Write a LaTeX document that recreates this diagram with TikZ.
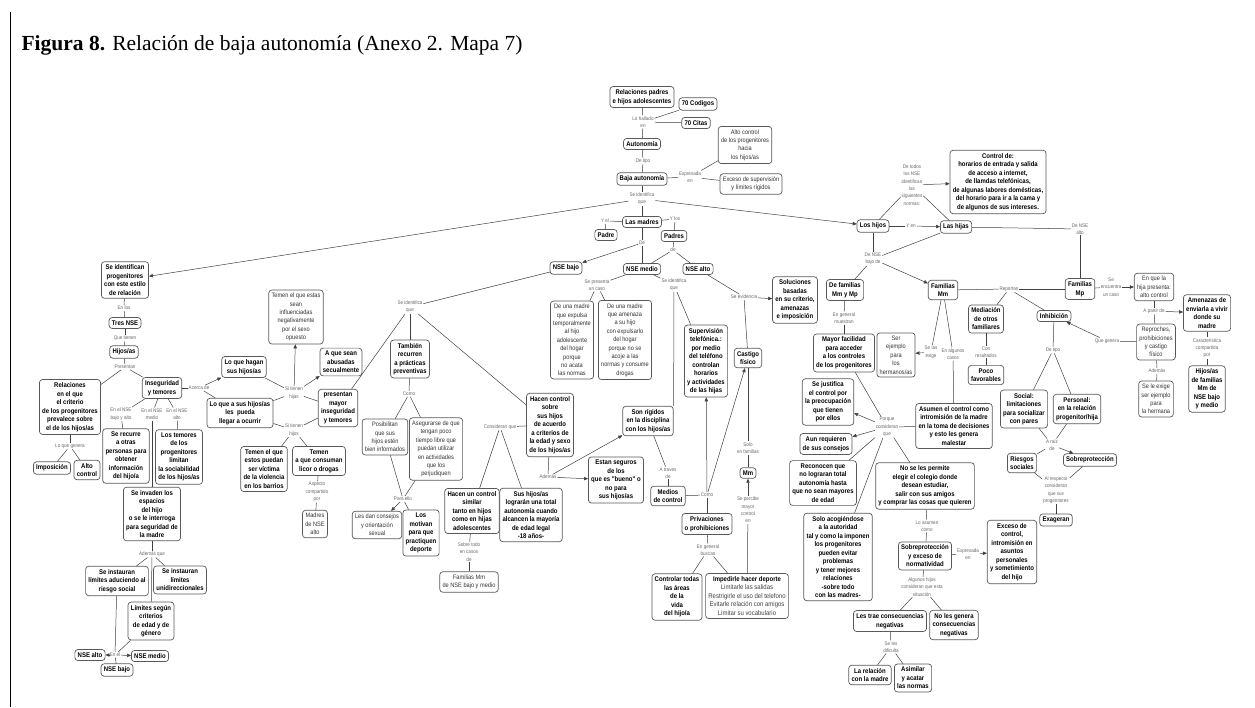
\documentclass[tikz,border=0pt]{standalone}
\usepackage{fontspec}
\usetikzlibrary{arrows.meta}
\newfontfamily\mapfont{Liberation Sans}[FakeStretch=0.88]
\newfontfamily\titlefont{Liberation Serif}
\newcommand\cbfont{\mapfont\bfseries\fontsize{6.8}{8.5}\selectfont}
\newcommand\crfont{\mapfont\fontsize{6.4}{8.4}\selectfont}
\newcommand\lbfont{\mapfont\fontsize{5.2}{7.3}\selectfont}
\tikzset{
  base/.style={draw=black!65, line width=0.7pt, rounded corners=3pt, align=center, fill=white, inner xsep=2.8pt, inner ysep=3pt},
  cb/.style={base, font=\cbfont},
  cr/.style={base, font=\crfont, text=black!80},
  lb/.style={font=\lbfont, text=black!60, align=center, inner sep=0.8pt},
  ln/.style={draw=black!75, line width=0.5pt},
  ar/.style={ln, -{Triangle[length=4pt,width=3.4pt]}}
}
\begin{document}
\begin{tikzpicture}[x=1pt,y=-1pt]
\useasboundingbox (0,0) rectangle (1255,707);
\draw[line width=0.8pt] (10,12) -- (10,707);
\node[anchor=west, font=\titlefont\fontsize{21.5}{24}\selectfont] (title) at (18,45) {\textbf{Figura 8.} Relación de baja autonomía (Anexo 2. Mapa 7)};

% ---- top centre
\node[cb] (rel) at (642,97) {Relaciones padres\\e hijos adolescentes};
\node[cb] (cod) at (698,104) {70 Codigos};
\node[cb] (cit) at (696,123) {70 Citas};
\node[lb] (lhall) at (643,122) {Lo hallado\\en};
\node[cb] (auto) at (642,144) {Autonomía};
\node[lb] (ltipo) at (643,161) {De tipo};
\node[cb] (baja) at (642,179) {Baja autonomía};
\node[lb] (lexpr) at (690,177) {Expresada\\en};
\node[cr] (altoc) at (745,145) {Alto control\\de los progenitores\\hacia\\los hijos/as};
\node[cr] (exc) at (751,184) {Exceso de supervisión\\y límites rígidos};
\node[lb] (lseid) at (642,199) {Se identifica\\que};
\node[cb] (madres) at (642,222) {Las madres};
\node[lb] (lyel) at (605,221) {Y el};
\node[cb] (padre) at (606,235) {Padre};
\node[lb] (lylos) at (675,219) {Y los};
\node[cb] (padres) at (674,236) {Padres};
\node[lb] (lDe) at (642,243) {De};
\node[lb] (lde) at (673,250) {de};
\node[cb] (nbajo) at (566,268) {NSE bajo};
\node[cb] (nmedio) at (642,269) {NSE medio};
\node[cb] (nalto) at (698,269) {NSE alto};
\node[lb] (lpres) at (597,285) {Se presenta\\un caso};
\node[lb] (lseid2) at (674,285) {Se identifica\\que};
\node[lb] (levid) at (744,297) {Se evidencia};
\node[cb] (sol) at (795,300) {Soluciones\\basadas\\en su criterio,\\amenazas\\e imposición};
\node[cr] (madre1) at (572,340) {De una madre\\que expulsa\\temporalmente\\al hijo\\adolescente\\del hogar\\porque\\no acata\\las normas};
\node[cr] (madre2) at (625,340) {De una madre\\que amenaza\\a su hijo\\con expulsarlo\\del hogar\\porque no se\\acoje a las\\normas y consume\\drogas};

% ---- right: hijos / hijas
\node[cb] (hijos) at (873,226) {Los hijos};
\node[lb] (lyen) at (911,226) {Y en};
\node[lb] (ltodos) at (912,185) {De todos\\los NSE\\identifican\\las\\siguientes\\normas:};
\node[cb] (ctrl) at (998,182) {Control de:\\horarios de entrada y salida\\de acceso a internet,\\de llamdas telefónicas,\\de algunas labores domésticas,\\del horario para ir a la cama y\\de algunos de sus intereses.};
\node[cb] (hijas) at (956,227) {Las hijas};
\node[lb] (lnsealto) at (1080,229) {De NSE\\alto};
\node[lb] (lbajode) at (873,259) {De NSE\\bajo de};
\node[cb] (fmmmp) at (845,290) {De familias\\Mm y Mp};
\node[cb] (fmm) at (943,290) {Familias\\Mm};
\node[cb] (fmp) at (1080,289) {Familias\\Mp};
\node[lb] (lrep) at (1009,289) {Reportan};
\node[lb] (lenc) at (1111,287) {Se\\encuentra\\un caso};
\node[cr] (hpres) at (1154,287) {En que la\\hija presenta:\\alto control};
\node[lb] (lapartir) at (1154,311) {A partir de};
\node[cb] (amen) at (1207,313) {Amenazas de\\enviarla a vivir\\donde su\\madre};
\node[cb] (medi) at (986,319) {Mediación\\de otros\\familiares};
\node[cb] (inhib) at (1054,316) {Inhibición};
\node[lb] (lconres) at (986,352) {Con\\resultados};
\node[cb] (poco) at (986,375) {Poco\\favorables};
\node[lb] (ldetipo) at (1053,350) {De tipo};
\node[lb] (lqgen) at (1107,341) {Que genera};
\node[cr] (repro) at (1156,342) {Reproches,\\prohibiciones\\y castigo\\físico};
\node[lb] (lademas3) at (1157,371) {Además};
\node[cr] (exige) at (1156,399) {Se le exige\\ser ejemplo\\para\\la hermana};
\node[lb] (lcaract) at (1207,348) {Característica\\compartida\\por};
\node[cb] (hmm) at (1207,389) {Hijos/as\\de familias\\Mm de\\NSE bajo\\y medio};
\node[cb] (social) at (1024,409) {Social:\\limitaciones\\para socializar\\con pares};
\node[cb] (personal) at (1077,409) {Personal:\\en la relación\\progenitor/hija};
\node[lb] (lraiz) at (1052,445) {A raíz\\de};
\node[cb] (riesgos) at (1022,463) {Riesgos\\sociales};
\node[cb] (sobrep) at (1090,460) {Sobreprotección};
\node[lb] (lalresp) at (1056,490) {Al respecto\\consideran\\que sus\\progenitores};
\node[cb] (exag) at (1056,520) {Exageran};
\node[cb] (excctrl) at (1012,552) {Exceso de\\control,\\intromisión en\\asuntos\\personales\\y sometimiento\\del hijo};
\node[cb] (asumen) at (954,426) {Asumen el control como\\intromisión de la madre\\en la toma de decisiones\\y esto les genera\\malestar};
\node[lb] (lalgunos) at (953,354) {En algunos\\casos};
\node[lb] (lselas) at (931,352) {Se las\\exige};
\node[cb] (noperm) at (925,486) {No se les permite\\elegir el colegio donde\\desean estudiar,\\salir con sus amigos\\y comprar las cosas que quieren};
\node[lb] (lloasumen) at (927,526) {Lo asumen\\como};
\node[cb] (sobrenorm) at (925,556) {Sobreprotección\\y exceso de\\normatividad};
\node[lb] (lexpr2) at (968,554) {Expresada\\en};
\node[lb] (lalgh) at (922,587) {Algunos hijos\\consideran que esta\\situación};
\node[cb] (lestrae) at (890,621) {Les trae consecuencias\\negativas};
\node[cb] (nogen) at (954,625) {No les genera\\consecuencias\\negativas};
\node[lb] (ldific) at (891,647) {Se les\\dificulta};
\node[cb] (relmadre) at (870,675) {La relación\\con la madre};
\node[cb] (asim) at (913,678) {Asimilar\\y acatar\\las normas};

% ---- centre lower
\node[cb] (superv) at (706,361) {Supervisión\\telefónica.:\\por medio\\del teléfono\\controlan\\horarios\\y actividades\\de las hijas};
\node[cb] (castigo) at (748,358) {Castigo\\físico};
\node[cb] (rigidos) at (648,421) {Son rígidos\\en la disciplina\\con los hijos/as};
\node[lb] (ltraves) at (668,473) {A traves\\de};
\node[cb] (medios) at (668,496) {Medios\\de control};
\node[lb] (lcomo2) at (707,495) {Como};
\node[lb] (lsolo) at (748,448) {Solo\\en familias};
\node[cb] (mm) at (748,473) {Mm};
\node[lb] (lpercibe) at (748,510) {Se percibe\\mayor\\control\\en};
\node[cb] (priv) at (707,524) {Privaciones\\o prohibiciones};
\node[lb] (lbuscan) at (708,550) {En general\\buscan};
\node[cb] (controlar) at (677,597) {Controlar todas\\las áreas\\de la\\vida\\del hijo/a};
\node[cb] (impedir) at (747,596) {Impedirle hacer deporte\\{\mdseries\color{black!75}Limitarle las salidas}\\{\mdseries\color{black!75}Restrigirle el uso del telefono}\\{\mdseries\color{black!75}Evitarle relación con amigos}\\{\mdseries\color{black!75}Limitar su vocabulario}};
\node[lb] (lmuestran) at (844,318) {En general\\muestran};
\node[cb] (mayorf) at (844,353) {Mayor facilidad\\para acceder\\a los controles\\de los progenitores};
\node[cr] (serej) at (896,355) {Ser\\ejemplo\\para\\los\\hermanos/as};
\node[cb] (justif) at (828,402) {Se justifica\\el control por\\la preocupación\\que tienen\\por ellos};
\node[lb] (lporque) at (887,427) {Porque\\consideran\\que};
\node[cb] (aun) at (826,444) {Aun requieren\\de sus consejos};
\node[cb] (recon) at (823,483) {Reconocen que\\no lograran total\\autonomía hasta\\que no sean mayores\\de edad};
\node[cb] (soloacog) at (838,557) {Solo acogiéndose\\a la autoridad\\tal y como la imponen\\los progenitores\\pueden evitar\\problemas\\y tener mejores\\relaciones\\-sobre todo\\con las madres-};

% ---- NSE bajo branch
\node[lb] (lseid3) at (410,307) {Se identifica\\que};
\node[cb] (abus) at (341,362) {A que sean\\abusadas\\secualmente};
\node[cb] (tamb) at (410,359) {También\\recurren\\a prácticas\\preventivas};
\node[cb] (presmay) at (338,408) {presentan\\mayor\\inseguridad\\y temores};
\node[lb] (lcomo1) at (409,394) {Como};
\node[cr] (posib) at (385,437) {Posibilitan\\que sus\\hijos estén\\bien informados};
\node[cr] (aseg) at (436,449) {Asegurarse de que\\tengan poco\\tiempo libre que\\puedan utilizar\\en actividades\\que los\\perjudiquen};
\node[lb] (lparaello) at (403,499) {Para ello};
\node[cr] (consejos) at (377,525) {Les dan consejos\\y orientación\\sexual};
\node[cb] (motivan) at (421,533) {Los\\motivan\\para que\\practiquen\\deporte};
\node[cb] (hacencs) at (550,425) {Hacen control\\sobre\\sus hijos\\de acuerdo\\a criterios de\\la edad y sexo\\de los hijos/as};
\node[lb] (lconsid) at (500,427) {Consideran que};
\node[cb] (similar) at (472,511) {Hacen un control\\similar\\tanto en hijos\\como en hijas\\adolescentes};
\node[cb] (lograran) at (531,515) {Sus hijos/as\\lograrán una total\\autonomía cuando\\alcancen la mayoría\\de edad legal\\-18 años-};
\node[lb] (lsobretodo) at (469,552) {Sobre todo\\en casos\\de};
\node[cr] (fammm) at (469,582) {Familias Mm\\de NSE bajo y medio};
\node[lb] (lademas2) at (548,477) {Además};
\node[cb] (seguros) at (616,480) {Estan seguros\\de los\\que es "bueno" o\\no para\\sus hijos/as};

% ---- left branch
\node[cb] (progen) at (125,280) {Se identifican\\progenitores\\con este estilo\\de relación};
\node[lb] (lenlos) at (124,308) {En los};
\node[cb] (tres) at (125,323) {Tres NSE};
\node[lb] (lqtienen) at (125,338) {Que tienen};
\node[cb] (hijosas) at (124,352) {Hijos/as};
\node[lb] (lpresentan) at (125,367) {Presentan};
\node[cb] (relac) at (70,407) {Relaciones\\en el que\\el criterio\\de los progenitores\\prevalece sobre\\el de los hijos/as};
\node[cb] (inseg) at (162,388) {Inseguridad\\y temores};
\node[lb] (lacerca) at (199,388) {Acerca de};
\node[cb] (hagan) at (244,367) {Lo que hagan\\sus hijos/as};
\node[cb] (ocurrir) at (240,413) {Lo que a sus hijos/as\\les~ pueda\\llegar a ocurrir};
\node[lb] (lsihijas) at (294,393) {Si tienen\\hijas};
\node[lb] (lsihijos) at (294,430) {Si tienen\\hijos};
\node[cr] (influ) at (296,317) {Temen el que estas\\sean\\influenciadas\\negativamente\\por el sexo\\opuesto};
\node[cb] (violencia) at (264,469) {Temen el que\\estos puedan\\ser víctima\\de la violencia\\en los barrios};
\node[cb] (licor) at (319,461) {Temen\\a que consuman\\licor o drogas};
\node[lb] (laspecto) at (317,492) {Aspecto\\compartido\\por};
\node[cr] (madresalto) at (315,524) {Madres\\de NSE\\alto};
\node[cb] (impos) at (52,468) {Imposición};
\node[cb] (altoc2) at (87,470) {Alto\\control};
\node[lb] (llogenera) at (70,446) {Lo que genera};
\node[lb] (lbajoalto) at (121,414) {En el NSE\\bajo y alto};
\node[lb] (lmedio) at (152,414) {En el NSE\\medio};
\node[lb] (lalto) at (177,414) {En el NSE\\alto};
\node[cb] (recurre) at (126,456) {Se recurre\\a otras\\personas para\\obtener\\información\\del hijo/a};
\node[cb] (temores) at (179,457) {Los temores\\de los\\progenitores\\limitan\\la sociabilidad\\de los hijos/as};
\node[cb] (invaden) at (152,514) {Se invaden los\\espacios\\del hijo\\o se le interroga\\para seguridad de\\la madre};
\node[lb] (lademasque) at (152,554) {Además que};
\node[cb] (aduc) at (117,581) {Se instauran\\límites aduciendo al\\riesgo social};
\node[cb] (unidir) at (180,580) {Se instauran\\límites\\unidireccionales};
\node[cb] (segun) at (151,621) {Límites según\\criterios\\de edad y de\\género};
\node[cb] (ealto) at (90,655) {NSE alto};
\node[lb] (lenel) at (115,655) {En el};
\node[cb] (emedio) at (150,656) {NSE medio};
\node[cb] (ebajo) at (117,670) {NSE bajo};

% ---- connectors
\draw[ln] (rel) -- (lhall); \draw[ln] (lhall) -- (auto); \draw[ln] (lhall) -- (cod); \draw[ln] (lhall) -- (cit);
\draw[ln] (auto) -- (ltipo); \draw[ln] (ltipo) -- (baja);
\draw[ln] (baja) -- (lexpr); \draw[ln] (lexpr) -- (altoc); \draw[ln] (lexpr) -- (exc);
\draw[ln] (baja) -- (lseid); \draw[ln] (lseid) -- (madres);
\draw[ar] (lseid) -- (progen); \draw[ar] (lseid) -- (hijos);
\draw[ln] (madres) -- (lyel); \draw[ln] (lyel) -- (padre);
\draw[ln] (madres) -- (lylos); \draw[ln] (lylos) -- (padres);
\draw[ln] (madres) -- (lDe); \draw[ar] (lDe) -- (nbajo); \draw[ln] (lDe) -- (nmedio);
\draw[ln] (padres) -- (lde); \draw[ln] (lde) -- (nmedio); \draw[ln] (lde) -- (nalto);
\draw[ln] (nmedio) -- (lpres); \draw[ln] (lpres) -- (madre1); \draw[ln] (lpres) -- (madre2);
\draw[ln] (nmedio) -- (lseid2); \draw[ln] (lseid2) -- (rigidos.north east); \draw[ln] (lseid2) -- (superv);
\draw[ln] (nalto) -- (levid); \draw[ar] (levid) -- (sol); \draw[ln] (levid) -- (castigo);
\draw[ln] (nbajo) -- (lseid3); \draw[ln] (lseid3) -- (presmay); \draw[ln] (lseid3) -- (tamb); \draw[ln] (lseid3) -- (hacencs);
\draw[ln] (hijos) -- (ltodos); \draw[ln] (hijas) -- (ltodos); \draw[ar] (ltodos) -- (ctrl);
\draw[ln] (hijos) -- (lyen); \draw[ar] (lyen) -- (hijas);
\draw[ln] (hijos) -- (lbajode); \draw[ln] (hijas) -- (lbajode); \draw[ln] (lbajode) -- (fmmmp); \draw[ar] (lbajode) -- (fmm);
\draw[ln] (hijas) -- (lnsealto); \draw[ln] (lnsealto) -- (fmp);
\draw[ln] (fmm) -- (lrep); \draw[ln] (lrep) -- (fmp); \draw[ln] (lrep) -- (medi); \draw[ln] (lrep) -- (inhib);
\draw[ln] (medi) -- (lconres); \draw[ln] (lconres) -- (poco);
\draw[ln] (inhib) -- (ldetipo); \draw[ln] (ldetipo) -- (social); \draw[ln] (ldetipo) -- (personal);
\draw[ln] (social) -- (lraiz); \draw[ln] (personal) -- (lraiz); \draw[ln] (lraiz) -- (riesgos); \draw[ar] (lraiz) -- (sobrep);
\draw[ln] (riesgos) -- (lalresp); \draw[ln] (sobrep) -- (lalresp); \draw[ln] (lalresp) -- (exag);
\draw[ln] (fmp) -- (lenc); \draw[ar] (lenc) -- (hpres);
\draw[ln] (hpres) -- (lapartir); \draw[ar] (lapartir) -- (amen); \draw[ln] (lapartir) -- (repro);
\draw[ln] (repro) -- (lqgen); \draw[ar] (lqgen) -- (inhib);
\draw[ln] (repro) -- (lademas3); \draw[ln] (lademas3) -- (exige);
\draw[ln] (amen) -- (lcaract); \draw[ln] (lcaract) -- (hmm);
\draw[ln] (fmm) -- (lselas); \draw[ar] (lselas) -- (serej);
\draw[ln] (fmm) -- (lalgunos); \draw[ln] (lalgunos) -- (asumen);
\draw[ln] (fmmmp) -- (lmuestran); \draw[ln] (lmuestran) -- (mayorf);
\draw[ln] (mayorf) -- (lporque); \draw[ar] (lporque) -- (justif); \draw[ar] (lporque) -- (aun);
\draw[ln] (lporque) -- (recon); \draw[ln] (lporque) -- (soloacog); \draw[ln] (lporque) -- (noperm); \draw[ln] (lporque) -- (asumen);
\draw[ln] (noperm) -- (lloasumen); \draw[ln] (lloasumen) -- (sobrenorm);
\draw[ln] (sobrenorm) -- (lexpr2); \draw[ar] (lexpr2) -- (excctrl);
\draw[ln] (sobrenorm) -- (lalgh); \draw[ln] (lalgh) -- (lestrae); \draw[ln] (lalgh) -- (nogen);
\draw[ln] (lestrae) -- (ldific); \draw[ln] (ldific) -- (relmadre); \draw[ln] (ldific) -- (asim);
\draw[ln] (rigidos) -- (ltraves); \draw[ln] (ltraves) -- (medios);
\draw[ln] (medios) -- (lcomo2); \draw[ar] (lcomo2) -- (superv); \draw[ar] (lcomo2) -- (castigo); \draw[ln] (lcomo2) -- (priv);
\draw[ln] (castigo) -- (lsolo); \draw[ln] (lsolo) -- (mm);
\draw[ln] (impedir) -- (lpercibe); \draw[ar] (lpercibe) -- (mm);
\draw[ln] (priv) -- (lbuscan); \draw[ln] (lbuscan) -- (controlar); \draw[ln] (lbuscan) -- (impedir);
\draw[ln] (tamb) -- (lcomo1); \draw[ln] (lcomo1) -- (posib); \draw[ln] (lcomo1) -- (aseg);
\draw[ln] (posib) -- (lparaello); \draw[ln] (aseg) -- (lparaello); \draw[ar] (lparaello) -- (consejos); \draw[ln] (lparaello) -- (motivan);
\draw[ln] (hacencs) -- (lconsid); \draw[ln] (lconsid) -- (similar); \draw[ln] (lconsid) -- (lograran);
\draw[ln] (hacencs) -- (lademas2); \draw[ar] (lademas2) -- (rigidos); \draw[ar] (lademas2) -- (seguros);
\draw[ln] (similar) -- (lsobretodo); \draw[ln] (lsobretodo) -- (fammm);
\draw[ln] (progen) -- (lenlos); \draw[ln] (lenlos) -- (tres); \draw[ln] (tres) -- (lqtienen); \draw[ln] (lqtienen) -- (hijosas);
\draw[ln] (hijosas) -- (lpresentan); \draw[ln] (lpresentan) -- (relac); \draw[ln] (lpresentan) -- (inseg);
\draw[ln] (relac) -- (llogenera); \draw[ln] (llogenera) -- (impos); \draw[ln] (llogenera) -- (altoc2);
\draw[ln] (inseg) -- (lacerca); \draw[ar] (lacerca) -- (hagan); \draw[ln] (lacerca) -- (ocurrir);
\draw[ln] (inseg) -- (lbajoalto); \draw[ln] (lbajoalto) -- (recurre);
\draw[ln] (inseg) -- (lmedio); \draw[ln] (lmedio) -- (invaden);
\draw[ln] (inseg) -- (lalto); \draw[ln] (lalto) -- (temores);
\draw[ln] (hagan) -- (lsihijas); \draw[ln] (ocurrir) -- (lsihijas); \draw[ar] (lsihijas) -- (influ); \draw[ar] (lsihijas) -- (abus); \draw[ln] (lsihijas) -- (presmay);
\draw[ln] (ocurrir) -- (lsihijos); \draw[ln] (lsihijos) -- (violencia); \draw[ln] (lsihijos) -- (licor); \draw[ln] (lsihijos) -- (presmay);
\draw[ln] (licor) -- (laspecto); \draw[ln] (laspecto) -- (madresalto);
\draw[ln] (invaden) -- (lademasque); \draw[ln] (lademasque) -- (aduc); \draw[ln] (lademasque) -- (unidir); \draw[ln] (lademasque) -- (segun);
\draw[ln] (aduc) -- (lenel); \draw[ln] (segun) -- (lenel); \draw[ar] (lenel) -- (ealto); \draw[ar] (lenel) -- (emedio); \draw[ln] (lenel) -- (ebajo);
\end{tikzpicture}
\end{document}
